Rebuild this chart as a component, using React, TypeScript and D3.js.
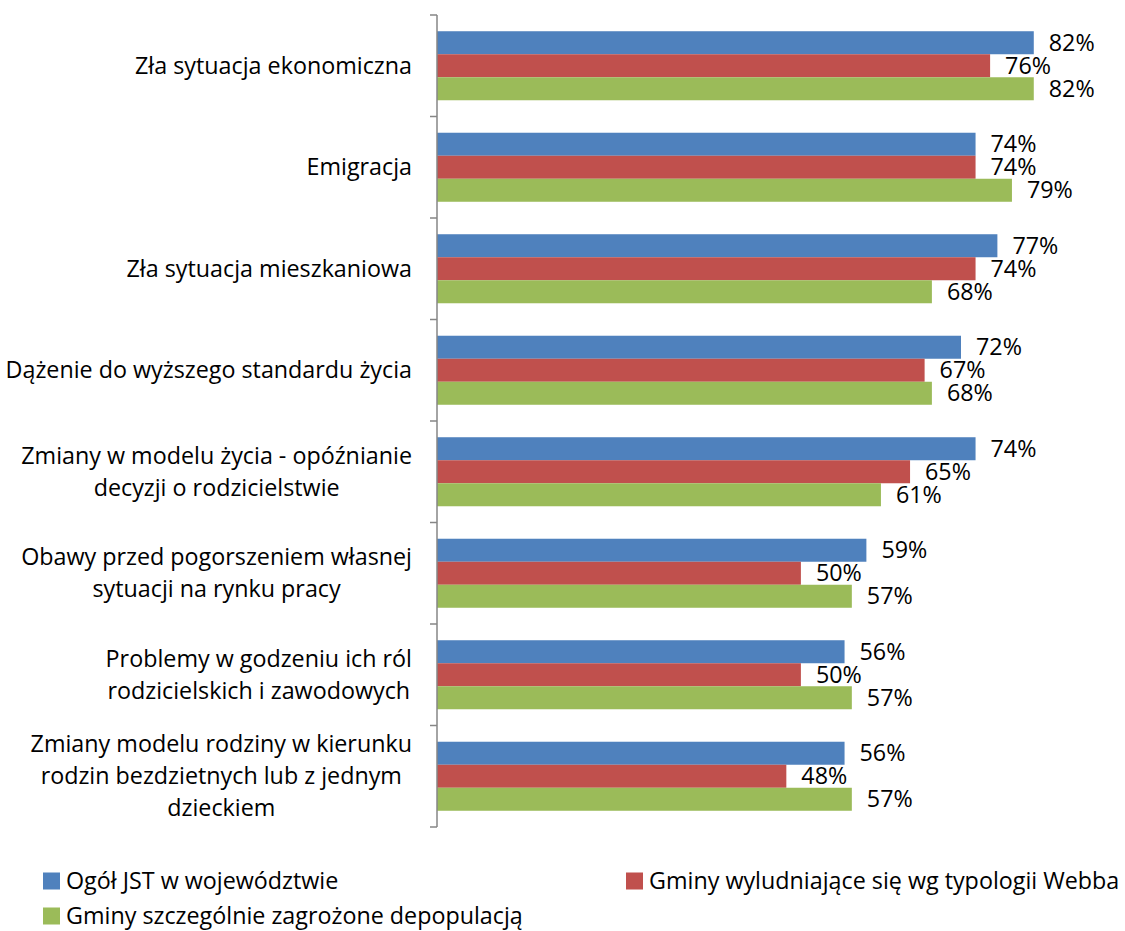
import React, { useRef, useEffect } from 'react';
import * as d3 from 'd3';

const categories: string[][] = [
  ['Zła sytuacja ekonomiczna'],
  ['Emigracja'],
  ['Zła sytuacja mieszkaniowa'],
  ['Dążenie do wyższego standardu życia'],
  ['Zmiany w modelu życia - opóźnianie', 'decyzji o rodzicielstwie'],
  ['Obawy przed pogorszeniem własnej', 'sytuacji na rynku pracy'],
  ['Problemy w godzeniu ich ról', 'rodzicielskich i zawodowych'],
  ['Zmiany modelu rodziny w kierunku', 'rodzin bezdzietnych lub z jednym', 'dzieckiem']
];

const seriesNames = [
  'Ogół JST w województwie',
  'Gminy wyludniające się wg typologii Webba',
  'Gminy szczególnie zagrożone depopulacją'
];

const ogol = [82, 74, 77, 72, 74, 59, 56, 56];
const wyludniajace = [76, 74, 74, 67, 65, 50, 50, 48];
const zagrozone = [82, 79, 68, 68, 61, 57, 57, 57];

const colors = ['#4F81BD', '#C0504D', '#9BBB59'];

const W = 1125;
const H = 931;
const FONT = 'Open Sans, sans-serif';
const FS = 23.3;

export default function App() {
  const ref = useRef<SVGSVGElement>(null);

  useEffect(() => {
    const svg = d3.select(ref.current);
    svg.selectAll('*').remove();

    const values = [ogol, wyludniajace, zagrozone];
    const idx = categories.map((_, i) => i);

    const y = d3.scaleBand<number>().domain(idx).range([15, 827]).padding(0);
    const inner = d3
      .scaleBand<number>()
      .domain([0, 1, 2])
      .range([y.bandwidth() * 0.16, y.bandwidth() * 0.84]);
    const x = d3.scaleLinear().domain([0, 90]).range([437, 1092]);

    // bars + value labels
    values.forEach((vals, s) => {
      const g = svg.append('g');
      g.selectAll('rect')
        .data(vals)
        .enter()
        .append('rect')
        .attr('x', x(0))
        .attr('y', (d, i) => (y(i) as number) + (inner(s) as number))
        .attr('width', d => x(d) - x(0))
        .attr('height', inner.bandwidth())
        .attr('fill', colors[s]);

      g.selectAll('text')
        .data(vals)
        .enter()
        .append('text')
        .attr('x', d => x(d) + 15)
        .attr('y', (d, i) => (y(i) as number) + (inner(s) as number) + inner.bandwidth() / 2)
        .attr('dy', '0.35em')
        .attr('font-family', FONT)
        .attr('font-size', FS)
        .attr('fill', '#000')
        .text(d => d + '%');
    });

    // axis
    const axis = svg.append('g').attr('stroke', '#868686').attr('stroke-width', 1.5);
    axis.append('line').attr('x1', 437).attr('x2', 437).attr('y1', 15).attr('y2', 827);
    const ticks = idx.map(i => y(i) as number).concat([827]);
    axis
      .selectAll('line.tick')
      .data(ticks)
      .enter()
      .append('line')
      .attr('class', 'tick')
      .attr('x1', 430)
      .attr('x2', 437)
      .attr('y1', d => d)
      .attr('y2', d => d);

    // category labels, multi-line blocks centred, right edge at 412
    const lineH = 32;
    categories.forEach((lines, i) => {
      const cy = (y(i) as number) + y.bandwidth() / 2;
      const t = svg
        .append('text')
        .attr('font-family', FONT)
        .attr('font-size', FS)
        .attr('fill', '#000');
      const spans = lines.map((ln, k) =>
        t
          .append('tspan')
          .attr('y', cy + (k - (lines.length - 1) / 2) * lineH)
          .attr('dy', '0.35em')
          .text(ln)
      );
      const widths = spans.map(sp => (sp.node() as SVGTSpanElement).getComputedTextLength());
      const maxW = d3.max(widths) as number;
      const center = 412 - maxW / 2;
      spans.forEach(sp => sp.attr('x', center).attr('text-anchor', 'middle'));
    });

    // legend
    const legend = [
      { x: 43, y: 881, s: 0 },
      { x: 626, y: 881, s: 1 },
      { x: 43, y: 916, s: 2 }
    ];
    legend.forEach(l => {
      svg
        .append('rect')
        .attr('x', l.x)
        .attr('y', l.y - 8.5)
        .attr('width', 17)
        .attr('height', 17)
        .attr('fill', colors[l.s]);
      svg
        .append('text')
        .attr('x', l.x + 23)
        .attr('y', l.y)
        .attr('dy', '0.35em')
        .attr('font-family', FONT)
        .attr('font-size', FS)
        .attr('fill', '#000')
        .text(seriesNames[l.s]);
    });
  }, []);

  return (
    <svg
      ref={ref}
      width={W}
      height={H}
      style={{ position: 'absolute', left: 0, top: 0, background: '#fff' }}
    />
  );
}
